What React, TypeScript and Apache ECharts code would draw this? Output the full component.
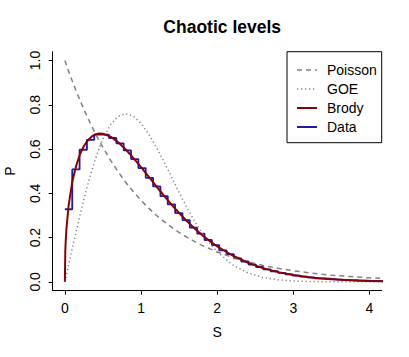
import React, { useEffect, useRef } from "react";
import * as echarts from "echarts";

const FONT = "'Liberation Sans', Arial, Helvetica, sans-serif";

const titleText = "Chaotic levels";
const xTicks = [0, 1, 2, 3, 4];
const yTicks = [0, 0.2, 0.4, 0.6, 0.8, 1.0];

// S grid for the smooth curves
const sCurve = [0, 0.005, 0.01, 0.02, 0.05, 0.1, 0.15, 0.2, 0.25, 0.3, 0.35, 0.4, 0.45, 0.5, 0.6, 0.7, 0.8, 0.9, 1.0, 1.1, 1.2, 1.3, 1.4, 1.5, 1.6, 1.7, 1.8, 1.9, 2.0, 2.2, 2.4, 2.6, 2.8, 3.0, 3.25, 3.5, 3.75, 4.0, 4.2];
const poisson = [1, 0.995, 0.99, 0.98, 0.951, 0.905, 0.861, 0.819, 0.779, 0.741, 0.705, 0.67, 0.638, 0.607, 0.549, 0.497, 0.449, 0.407, 0.368, 0.333, 0.301, 0.273, 0.247, 0.223, 0.202, 0.183, 0.165, 0.15, 0.135, 0.111, 0.091, 0.074, 0.061, 0.05, 0.039, 0.03, 0.024, 0.018, 0.015];
const goe = [0, 0.008, 0.016, 0.031, 0.078, 0.156, 0.231, 0.304, 0.374, 0.439, 0.499, 0.554, 0.603, 0.646, 0.711, 0.748, 0.76, 0.749, 0.716, 0.668, 0.609, 0.544, 0.475, 0.404, 0.337, 0.276, 0.221, 0.175, 0.136, 0.077, 0.041, 0.02, 0.009, 0.004, 0.0013, 0.0004, 0.0001, 0, 0];
const brody = [0, 0.134, 0.179, 0.239, 0.348, 0.457, 0.527, 0.578, 0.614, 0.639, 0.656, 0.666, 0.67, 0.669, 0.656, 0.631, 0.598, 0.559, 0.518, 0.475, 0.432, 0.39, 0.349, 0.311, 0.275, 0.242, 0.212, 0.185, 0.16, 0.119, 0.087, 0.062, 0.044, 0.031, 0.019, 0.012, 0.007, 0.004, 0.003];

// histogram of the data (step line), bins start at 0
const binWidth = 0.0965;
const histValues = [0.328, 0.508, 0.597, 0.642, 0.665, 0.665, 0.65, 0.626, 0.594, 0.555, 0.514, 0.47, 0.431, 0.387, 0.35, 0.311, 0.279, 0.245, 0.218, 0.189, 0.166, 0.142, 0.125, 0.106, 0.092, 0.078, 0.067, 0.056, 0.048, 0.041, 0.034, 0.028, 0.024, 0.02, 0.016, 0.014, 0.011, 0.009, 0.008, 0.006, 0.005, 0.004, 0.004, 0.003];

const legendNames = ["Poisson", "GOE", "Brody", "Data"];

const GRAY = "#808080";
const RED = "#8B0000";
const BLUE = "#1C1CA8";

export default function App() {
  const ref = useRef<HTMLDivElement>(null);
  useEffect(() => {
    if (!ref.current) return;
    const chart = echarts.init(ref.current, null, { renderer: "svg" });
    const pair = (xs: number[], ys: number[]) => xs.map((x, i) => [x, ys[i]]);
    const histData = histValues.map((v, i) => [i * binWidth, v]);
    histData.push([histValues.length * binWidth, histValues[histValues.length - 1]]);

    const gL = 52.7, gR = 381.7, gT = 51.7, gB = 290.7;
    const legX0 = 287, legY0 = gT, legW = gR - 287, legH = 91;
    const itemY = [70, 89, 108, 127];
    const legStyles = [
      { stroke: GRAY, lineWidth: 1.5, lineDash: [5, 4] },
      { stroke: GRAY, lineWidth: 1.5, lineDash: [1.2, 2.8] },
      { stroke: RED, lineWidth: 2, lineDash: null },
      { stroke: BLUE, lineWidth: 2, lineDash: null },
    ];
    const legendGraphics: any[] = [
      {
        type: "rect",
        shape: { x: legX0, y: legY0, width: legW, height: legH },
        style: { fill: "#fff", stroke: "#000", lineWidth: 1 },
        z: 100,
      },
    ];
    legendNames.forEach((name, i) => {
      legendGraphics.push({
        type: "line",
        shape: { x1: 297, y1: itemY[i], x2: 317, y2: itemY[i] },
        style: legStyles[i],
        z: 101,
      });
      legendGraphics.push({
        type: "text",
        x: 327,
        y: itemY[i],
        style: {
          text: name,
          fill: "#000",
          font: `14px ${FONT}`,
          textAlign: "left",
          textVerticalAlign: "middle",
          align: "left",
          verticalAlign: "middle",
        },
        z: 101,
      });
    });

    chart.setOption({
      animation: false,
      backgroundColor: "#fff",
      title: {
        text: titleText,
        left: (gL + gR) / 2,
        textAlign: "center",
        top: 13,
        textStyle: { fontFamily: FONT, fontSize: 17.5, fontWeight: "bold", color: "#000" },
      },
      grid: {
        left: gL,
        right: 409 - gR,
        top: gT,
        bottom: 357 - gB,
        containLabel: false,
        outerBoundsMode: "none",
      },
      xAxis: {
        type: "value",
        min: -0.16,
        max: 4.16,
        name: "S",
        nameLocation: "middle",
        nameGap: 34,
        nameTextStyle: { fontFamily: FONT, fontSize: 14, color: "#000" },
        axisLine: { onZero: false, lineStyle: { color: "#000", width: 1 } },
        axisTick: { show: true, length: 4, inside: false, customValues: xTicks, lineStyle: { color: "#000" } },
        axisLabel: { customValues: xTicks, margin: 10, fontFamily: FONT, fontSize: 14, color: "#000", formatter: (v: number) => String(v) },
        splitLine: { show: false },
      },
      yAxis: {
        type: "value",
        min: -0.04,
        max: 1.04,
        name: "P",
        nameLocation: "middle",
        nameGap: 36,
        nameRotate: 90,
        nameTextStyle: { fontFamily: FONT, fontSize: 14, color: "#000" },
        axisLine: { onZero: false, lineStyle: { color: "#000", width: 1 } },
        axisTick: { show: true, length: 4, inside: false, customValues: yTicks, lineStyle: { color: "#000" } },
        axisLabel: { customValues: yTicks, rotate: 90, margin: 11, fontFamily: FONT, fontSize: 14, color: "#000", formatter: (v: number) => v.toFixed(1) },
        splitLine: { show: false },
      },
      series: [
        {
          name: "Data",
          type: "line",
          step: "end",
          data: histData,
          symbol: "none",
          clip: true,
          lineStyle: { color: BLUE, width: 1.8 },
        },
        {
          name: "Poisson",
          type: "line",
          data: pair(sCurve, poisson),
          symbol: "none",
          clip: true,
          lineStyle: { color: GRAY, width: 1.5, type: [5, 4] },
        },
        {
          name: "GOE",
          type: "line",
          data: pair(sCurve, goe),
          symbol: "none",
          clip: true,
          lineStyle: { color: GRAY, width: 1.5, type: [1.2, 2.8] },
        },
        {
          name: "Brody",
          type: "line",
          data: pair(sCurve, brody),
          symbol: "none",
          clip: true,
          lineStyle: { color: RED, width: 2 },
        },
      ],
      graphic: { elements: legendGraphics },
    });
    return () => chart.dispose();
  }, []);
  return (
    <div
      ref={ref}
      style={{ position: "fixed", left: 0, top: 0, width: 409, height: 357, background: "#fff" }}
    />
  );
}
